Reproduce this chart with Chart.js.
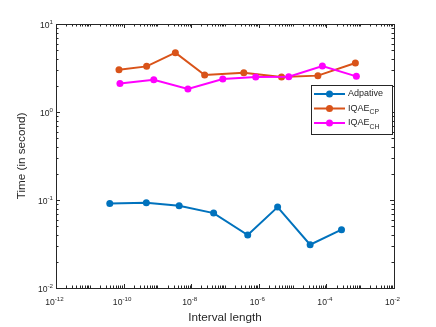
<!DOCTYPE html>
<html>
<head>
<meta charset="utf-8">
<script src="https://cdn.jsdelivr.net/npm/chart.js@4"></script>
<style>
  html, body { margin: 0; padding: 0; background: #fff; }
  #wrap { width: 436px; height: 327px; }
</style>
</head>
<body>
<div id="wrap"><canvas id="graph" width="436" height="327"></canvas></div>
<script>
'use strict';

// interval length (x) and time in seconds (y)
const xAdaptive = [3.9e-11, 4.7e-10, 4.4e-9, 4.6e-8, 4.7e-7, 3.6e-6, 3.3e-5, 2.8e-4];
const yAdaptive = [0.091, 0.093, 0.086, 0.071, 0.040, 0.083, 0.031, 0.046];
const xCP = [7.3e-11, 4.8e-10, 3.4e-9, 2.5e-8, 3.6e-7, 4.7e-6, 5.6e-5, 7.2e-4];
const yCP = [3.03, 3.30, 4.72, 2.63, 2.80, 2.50, 2.59, 3.61];
const xCH = [7.8e-11, 7.8e-10, 8.0e-9, 8.6e-8, 8.1e-7, 7.7e-6, 7.6e-5, 7.7e-4];
const yCH = [2.11, 2.33, 1.83, 2.37, 2.50, 2.52, 3.33, 2.54];

const seriesNames = ['Adpative', 'IQAE_CP', 'IQAE_CH'];
const seriesColors = ['#0072BD', '#D95319', '#FF00FF'];

const xTickExps = [-12, -10, -8, -6, -4, -2];
const yTickExps = [-2, -1, 0, 1];

const AXIS = '#262626';
const FONT = '"Liberation Sans", Arial, Helvetica, sans-serif';

function pts(xs, ys) {
    return xs.map((x, i) => ({ x: x, y: ys[i] }));
}

function supLabel(ctx, x, y, base, exp, size, align) {
    const esize = Math.round(size * 0.72 * 10) / 10;
    ctx.font = size + 'px ' + FONT;
    const wb = ctx.measureText(base).width;
    ctx.font = esize + 'px ' + FONT;
    const we = ctx.measureText(exp).width;
    let left = x;
    if (align === 'center') left = x - (wb + we) / 2;
    if (align === 'right') left = x - wb - we;
    ctx.textAlign = 'left';
    ctx.textBaseline = 'middle';
    ctx.font = size + 'px ' + FONT;
    ctx.fillText(base, left, y);
    ctx.font = esize + 'px ' + FONT;
    ctx.fillText(exp, left + wb, y - size * 0.42);
}

const axesPlugin = {
    id: 'matlabAxes',
    afterDatasetsDraw(chart) {
        const ctx = chart.ctx;
        const a = chart.chartArea;
        const xs = chart.scales.x, ys = chart.scales.y;
        ctx.save();
        ctx.strokeStyle = AXIS;
        ctx.lineWidth = 1;
        ctx.strokeRect(Math.round(a.left) + 0.5, Math.round(a.top) + 0.5,
            Math.round(a.right - a.left), Math.round(a.bottom - a.top));

        ctx.beginPath();
        for (let n = -12; n <= -2; n++) {
            for (let k = 1; k <= 9; k++) {
                if (n === -2 && k > 1) break;
                const px = Math.round(xs.getPixelForValue(k * Math.pow(10, n))) + 0.5;
                const len = (k === 1 && n % 2 === 0) ? 4 : 2.5;
                ctx.moveTo(px, a.bottom); ctx.lineTo(px, a.bottom - len);
                ctx.moveTo(px, a.top); ctx.lineTo(px, a.top + len);
            }
        }
        for (let n = -2; n <= 1; n++) {
            for (let k = 1; k <= 9; k++) {
                if (n === 1 && k > 1) break;
                const py = Math.round(ys.getPixelForValue(k * Math.pow(10, n))) + 0.5;
                const len = k === 1 ? 4 : 2.5;
                ctx.moveTo(a.left, py); ctx.lineTo(a.left + len, py);
                ctx.moveTo(a.right, py); ctx.lineTo(a.right - len, py);
            }
        }
        ctx.stroke();

        ctx.fillStyle = AXIS;
        xTickExps.forEach(e => {
            const px = xs.getPixelForValue(Math.pow(10, e));
            supLabel(ctx, px - 1.5, a.bottom + 15, '10', String(e), 8.6, 'center');
        });
        yTickExps.forEach(e => {
            const py = ys.getPixelForValue(Math.pow(10, e));
            supLabel(ctx, a.left - 3, py + 2, '10', String(e), 8.6, 'right');
        });

        ctx.font = '11.7px ' + FONT;
        ctx.textAlign = 'center';
        ctx.textBaseline = 'middle';
        ctx.fillText('Interval length', (a.left + a.right) / 2, 318);
        ctx.translate(22, (a.top + a.bottom) / 2);
        ctx.rotate(-Math.PI / 2);
        ctx.fillText('Time (in second)', 0, 0);
        ctx.restore();
    },
    afterDraw(chart) {
        const ctx = chart.ctx;
        ctx.save();
        const bx = 311.5, by = 85.5, bw = 81, bh = 49;
        ctx.fillStyle = '#fff';
        ctx.fillRect(bx, by, bw, bh);
        ctx.strokeStyle = AXIS;
        ctx.lineWidth = 1;
        ctx.strokeRect(bx, by, bw, bh);
        const rows = [94, 108.5, 123];
        seriesNames.forEach((name, i) => {
            const y = rows[i];
            ctx.strokeStyle = seriesColors[i];
            ctx.lineWidth = 2;
            ctx.beginPath();
            ctx.moveTo(314, y); ctx.lineTo(345, y);
            ctx.stroke();
            ctx.fillStyle = seriesColors[i];
            ctx.beginPath();
            ctx.arc(329.5, y, 3.5, 0, Math.PI * 2);
            ctx.fill();
            ctx.fillStyle = AXIS;
            ctx.textAlign = 'left';
            ctx.textBaseline = 'middle';
            const parts = name.split('_');
            ctx.font = '9px ' + FONT;
            ctx.fillText(parts[0], 348, y);
            if (parts[1]) {
                const w = ctx.measureText(parts[0]).width;
                ctx.font = '6.8px ' + FONT;
                ctx.fillText(parts[1], 348 + w, y + 4);
            }
        });
        ctx.restore();
    }
};

const datasets = [xAdaptive, xCP, xCH].map((xs, i) => ({
    label: seriesNames[i],
    data: pts(xs, [yAdaptive, yCP, yCH][i]),
    borderColor: seriesColors[i],
    backgroundColor: seriesColors[i],
    borderWidth: 2,
    pointRadius: 3.5,
    pointHoverRadius: 3.5,
    pointBorderWidth: 0,
    showLine: true,
    order: 3 - i
}));

new Chart(document.getElementById('graph').getContext('2d'), {
    type: 'scatter',
    data: { datasets: datasets },
    plugins: [axesPlugin],
    options: {
        responsive: false,
        animation: false,
        events: [],
        layout: { padding: { left: 56, top: 24, right: 42, bottom: 39 } },
        plugins: { legend: { display: false }, tooltip: { enabled: false } },
        scales: {
            x: { type: 'logarithmic', min: 1e-12, max: 1e-2, display: false },
            y: { type: 'logarithmic', min: 1e-2, max: 10, display: false }
        }
    }
});
</script>
</body>
</html>
